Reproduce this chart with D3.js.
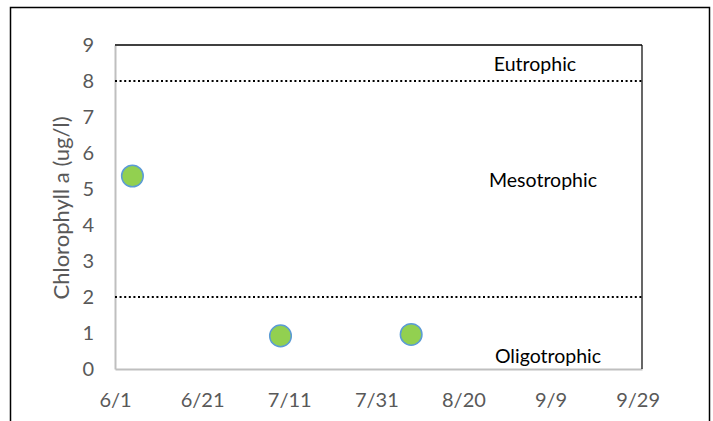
<!DOCTYPE html>
<html>
<head>
<meta charset="utf-8">
<script src="https://cdn.jsdelivr.net/npm/d3@7"></script>
<style>
  html, body { margin: 0; padding: 0; background: #fff; }
  svg text { font-family: Lato, "Open Sans", sans-serif; }
</style>
</head>
<body>
<script>
// datos
const sampleDates = ['2019-06-05', '2019-07-09', '2019-08-08'];
const chlorophyll = [5.36, 0.92, 0.96];
const thresholds = [2, 8];
const zoneLabels = ['Eutrophic', 'Mesotrophic', 'Oligotrophic'];
const zoneValues = [8.28, 5.06, 0.17];
const xTickLabels = ['6/1', '6/21', '7/11', '7/31', '8/20', '9/9', '9/29'];
const yTicks = [0, 1, 2, 3, 4, 5, 6, 7, 8, 9];

const width = 713, height = 421;
const margin = { left: 115, right: 71, top: 45, bottom: 52 };
const parse = d3.timeParse('%Y-%m-%d');

const svg = d3.select('body')
    .append('svg')
    .attr('width', width)
    .attr('height', height);

// marco exterior (cortado abajo)
svg.append('rect')
    .attr('x', 10.5).attr('y', 7.5)
    .attr('width', 699).attr('height', 500)
    .attr('fill', 'none')
    .attr('stroke', '#000')
    .attr('stroke-width', 1.5);

const x = d3.scaleTime()
    .domain([parse('2019-06-01'), parse('2019-09-30')])
    .range([margin.left, width - margin.right]);

const y = d3.scaleLinear()
    .domain([0, 9])
    .range([height - margin.bottom, margin.top]);

const tickDates = xTickLabels.map((t, i) => d3.timeDay.offset(parse('2019-06-01'), i * 20));

// ejes
const xAxis = svg.append('g')
    .attr('transform', `translate(0,${y(0)})`)
    .call(d3.axisBottom(x).tickValues(tickDates).tickFormat((d, i) => xTickLabels[i]).tickSize(0).tickPadding(24));
xAxis.select('.domain').attr('stroke', '#bfbfbf').attr('stroke-width', 2);

const yAxis = svg.append('g')
    .attr('transform', `translate(${x.range()[0]},0)`)
    .call(d3.axisLeft(y).tickValues(yTicks).tickSize(0).tickPadding(21));
yAxis.select('.domain').attr('stroke', '#bfbfbf').attr('stroke-width', 2);

svg.selectAll('.tick text')
    .attr('fill', '#595959')
    .style('font-size', '20px');

// borde superior y derecho
svg.append('line')
    .attr('x1', x.range()[0]).attr('x2', x.range()[1])
    .attr('y1', y(9)).attr('y2', y(9))
    .attr('stroke', '#404040').attr('stroke-width', 2);
svg.append('line')
    .attr('x1', x.range()[1]).attr('x2', x.range()[1])
    .attr('y1', y(9)).attr('y2', y(0))
    .attr('stroke', '#000').attr('stroke-width', 1.2);

// líneas de umbral punteadas
svg.selectAll('.threshold')
    .data(thresholds)
    .enter().append('line')
    .attr('x1', x.range()[0]).attr('x2', x.range()[1])
    .attr('y1', d => y(d)).attr('y2', d => y(d))
    .attr('stroke', '#000')
    .attr('stroke-width', 2)
    .attr('stroke-dasharray', '2,2.6');

// etiquetas de zona
svg.selectAll('.zone')
    .data(zoneLabels)
    .enter().append('text')
    .attr('x', (d, i) => [535, 543, 548][i])
    .attr('y', (d, i) => y(zoneValues[i]))
    .attr('text-anchor', 'middle')
    .attr('fill', '#000')
    .style('font-size', '19.5px')
    .text(d => d);

// puntos
svg.selectAll('.pt')
    .data(chlorophyll)
    .enter().append('circle')
    .attr('cx', (d, i) => x(parse(sampleDates[i])))
    .attr('cy', d => y(d))
    .attr('r', 10.8)
    .attr('fill', '#92d050')
    .attr('stroke', '#5b9bd5')
    .attr('stroke-width', 1.5);

// título del eje y
svg.append('text')
    .attr('transform', `translate(69,${(y(0) + y(9)) / 2 + 1}) rotate(-90)`)
    .attr('text-anchor', 'middle')
    .attr('fill', '#595959')
    .style('font-size', '22px')
    .text('Chlorophyll a (ug/l)');
</script>
</body>
</html>
